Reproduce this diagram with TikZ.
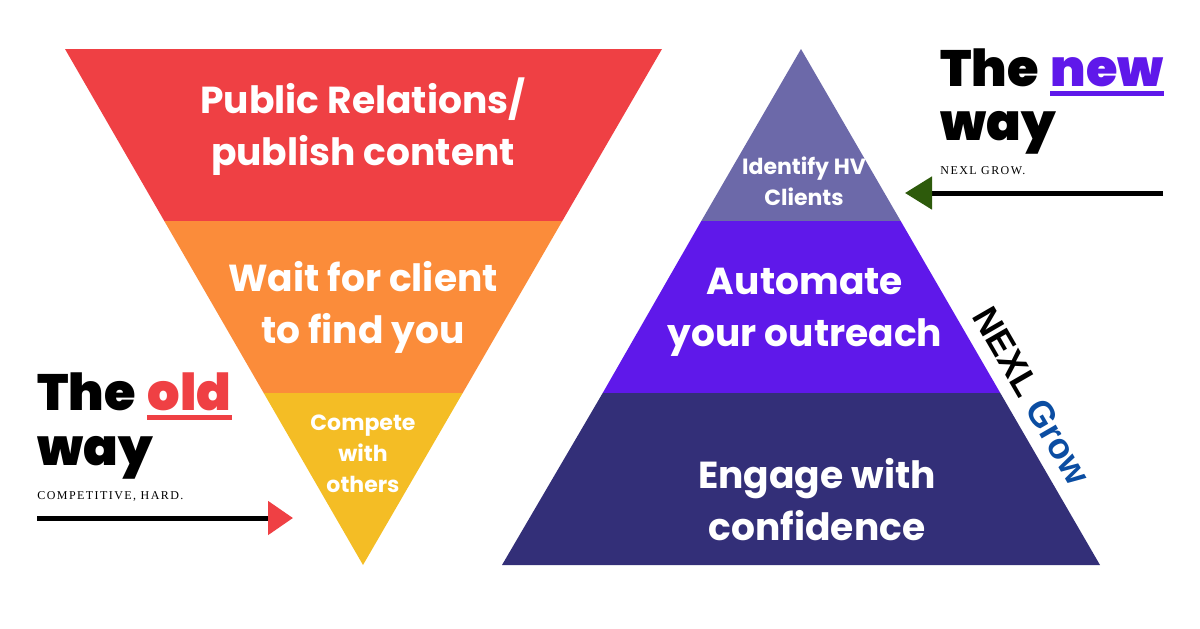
\documentclass[tikz,border=0pt]{standalone}
\usepackage{fontspec}
\setmainfont{Poppins}
\newfontfamily\heavyfont{Poppins}[UprightFont={* Black}]
\newfontfamily\capsfont{Liberation Serif}[LetterSpace=12]
\newfontfamily\tagfont{Liberation Sans}
\usetikzlibrary{arrows.meta}
\definecolor{prred}{HTML}{EF4044}
\definecolor{waitorange}{HTML}{FB8C3A}
\definecolor{compyellow}{HTML}{F4BD25}
\definecolor{idgrey}{HTML}{6C69A9}
\definecolor{autopurple}{HTML}{5F18EA}
\definecolor{engnavy}{HTML}{332F78}
\definecolor{arrowgreen}{HTML}{2D5A0B}
\definecolor{growblue}{HTML}{0B4DA2}

\begin{document}
\begin{tikzpicture}[x=0.5pt, y=-0.5pt,
  layer/.style={text=white, align=center, inner sep=0pt, font=\bfseries\fontsize{18.8}{26}\selectfont},
  small/.style={layer, font=\bfseries\fontsize{11}{15.5}\selectfont},
  head/.style={anchor=base west, inner sep=0pt, font=\heavyfont\fontsize{25.5}{27.5}\selectfont},
  caption/.style={anchor=base west, inner sep=0pt, font=\capsfont\fontsize{6}{8}\selectfont}]
  \useasboundingbox (0,0) rectangle (1200,628);

  % old way: inverted triangle
  \fill[prred]      (65,49) -- (662,49) -- (562.3,221) -- (164.3,221) -- cycle;
  \fill[waitorange] (164.3,221) -- (562.3,221) -- (462.7,393) -- (263.7,393) -- cycle;
  \fill[compyellow] (263.7,393) -- (462.7,393) -- (363,565) -- cycle;

  % new way: pyramid
  \fill[idgrey]     (801,49) -- (900.7,221) -- (701.3,221) -- cycle;
  \fill[autopurple] (701.3,221) -- (900.7,221) -- (1000.3,393) -- (602.7,393) -- cycle;
  \fill[engnavy]    (602.7,393) -- (1000.3,393) -- (1100,565) -- (502,565) -- cycle;

  \node[layer] (pr)   at (363,127) {Public Relations/\\ publish content};
  \node[layer] (wait) at (363,307) {Wait for client\\ to find you};
  \node[small] (comp) at (363,454) {Compete\\ with\\ others};

  \node[small] (ident) at (804,181) {Identify HV\\ Clients};
  \node[layer] (auto)  at (805,312) {Automate\\ your outreach};
  \node[layer] (eng)   at (817,500) {Engage with\\ confidence};

  \node[head] (oldthe) at (37,410) {The};
  \node[head, text=prred] (oldword) at ([xshift=5.5pt]oldthe.base east) {old};
  \node[head] (oldway) at (37,465) {way};
  \fill[prred] ([yshift=-2.4pt]oldword.base west) rectangle ([yshift=-4.8pt]oldword.base east);
  \node[caption] (oldcap) at (37,499) {COMPETITIVE, HARD.};

  \node[head] (newthe) at (940,86) {The};
  \node[head, text=autopurple] (newword) at ([xshift=5.5pt]newthe.base east) {new};
  \node[head] (newway) at (940,140) {way};
  \fill[autopurple] ([yshift=-2.4pt]newword.base west) rectangle ([yshift=-4.8pt]newword.base east);
  \node[caption] (newcap) at (940,174) {NEXL GROW.};

  \node[rotate=-60, inner sep=0pt, font=\tagfont\bfseries\fontsize{18}{18}\selectfont] (tag) at (1032,396)
    {NEXL \textcolor{growblue}{Grow}};

  \coordinate (oldtail) at (37,518);
  \coordinate (oldtip)  at (293,518);
  \coordinate (newtail) at (1163,193);
  \coordinate (newtip)  at (905,193);
  \draw[line width=2.5pt, -{Triangle[length=12.5pt, width=16.5pt, color=prred]}] (oldtail) -- (oldtip);
  \draw[line width=2.5pt, -{Triangle[length=13.5pt, width=16pt, color=arrowgreen]}] (newtail) -- (newtip);
\end{tikzpicture}
\end{document}
